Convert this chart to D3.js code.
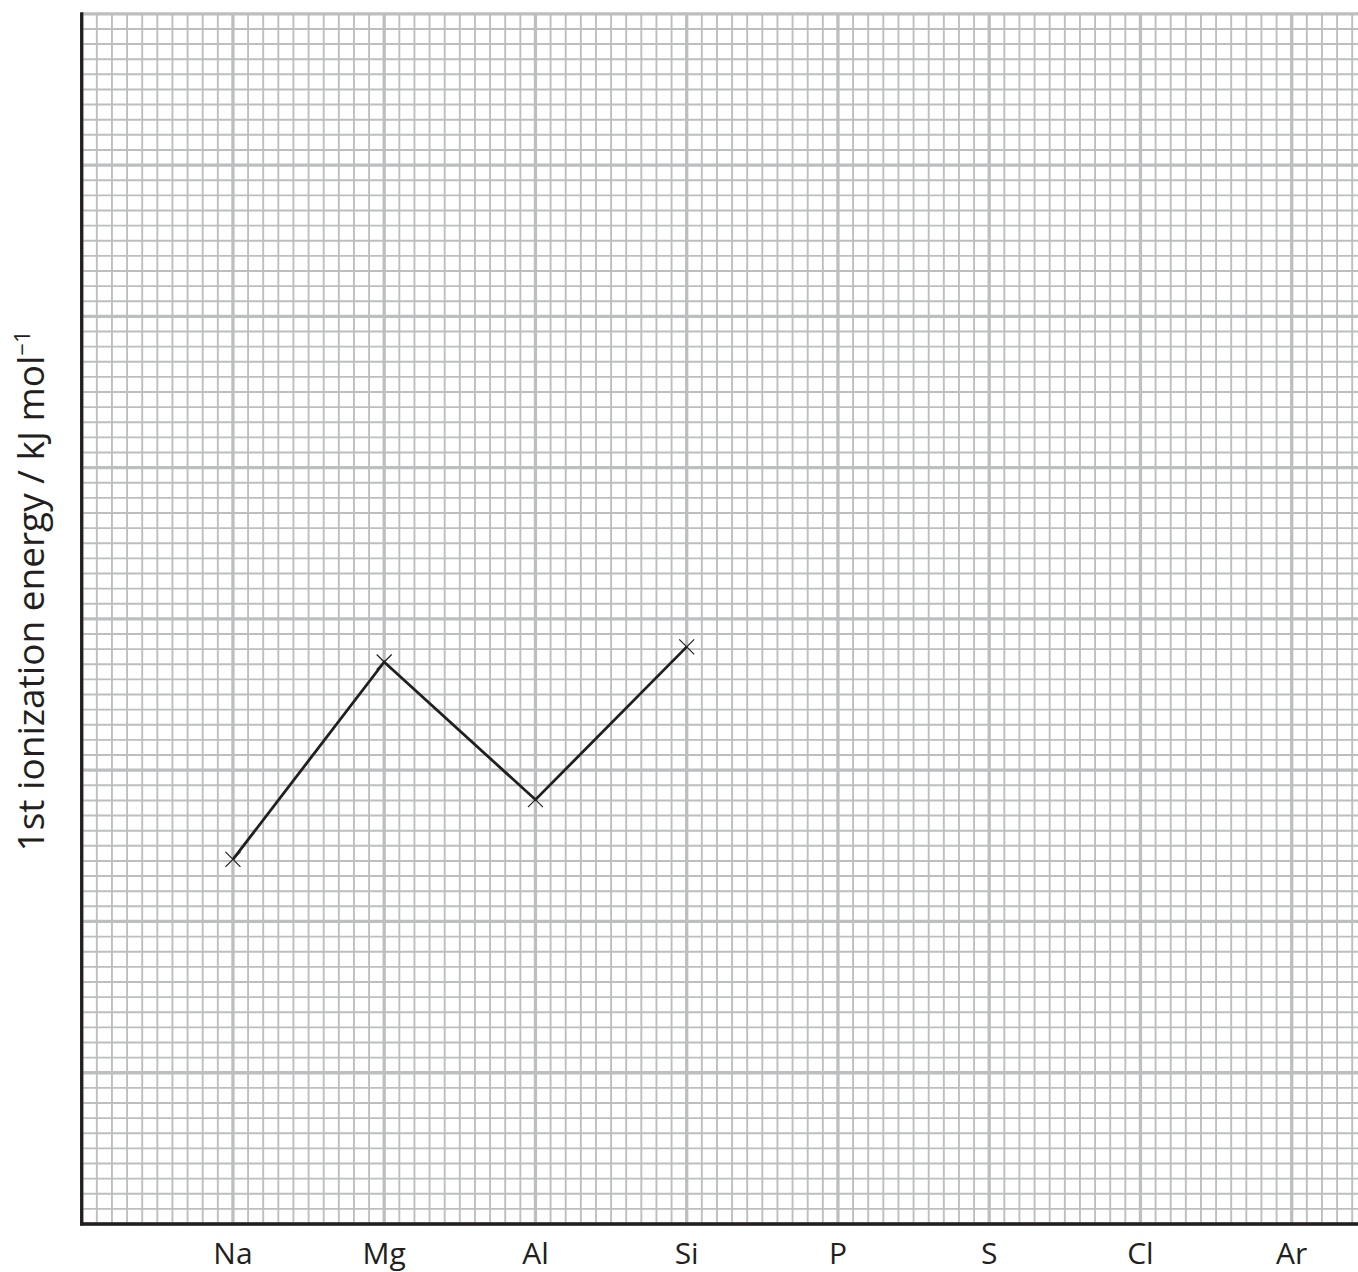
<!DOCTYPE html>
<html>
<head>
<meta charset="utf-8">
<script src="https://cdn.jsdelivr.net/npm/d3@7"></script>
<style>
  body { margin: 0; background: #fff; }
  svg { display: block; }
  text { font-family: "Open Sans", sans-serif; fill: #231f20; }
</style>
</head>
<body>
<svg id="chart" width="1358" height="1272"></svg>
<script>
// elements across period 3
var elements = ["Na", "Mg", "Al", "Si", "P", "S", "Cl", "Ar"];
// plotted points (only the first four were drawn)
var plotted = ["Na", "Mg", "Al", "Si"];
var energy = [482, 743, 561, 763];

var svg = d3.select("#chart"),
    plotLeft = 81.7, plotRight = 1291.7, plotTop = 13.8, plotBottom = 1224;

var x = d3.scaleLinear().domain([0, 8]).range([plotLeft, plotRight]);
var y = d3.scaleLinear().domain([0, 1600]).range([plotBottom, plotTop]);

var gridColor = "#bcbec0";

// graph paper - minor lines every 0.1 column / 20 units
var vMinor = d3.range(0, 85).map(function(i) { return i / 10; });
var hMinor = d3.range(0, 81).map(function(i) { return i * 20; });

var grid = svg.append("g");
grid.selectAll(".vline")
    .data(vMinor)
  .enter().append("line")
    .attr("x1", function(d) { return x(d); })
    .attr("x2", function(d) { return x(d); })
    .attr("y1", plotTop)
    .attr("y2", plotBottom)
    .attr("stroke", gridColor)
    .attr("stroke-width", function(d, i) { return i % 10 === 0 ? 3.3 : 1.9; });

grid.selectAll(".hline")
    .data(hMinor)
  .enter().append("line")
    .attr("x1", plotLeft)
    .attr("x2", 1358)
    .attr("y1", function(d) { return y(d); })
    .attr("y2", function(d) { return y(d); })
    .attr("stroke", gridColor)
    .attr("stroke-width", function(d, i) { return i % 10 === 0 ? 3.3 : 1.9; });

// put the major lines on top of the minor ones
grid.selectAll("line").filter(function() { return +d3.select(this).attr("stroke-width") > 3; }).raise();

// axes
svg.append("line")
    .attr("x1", plotLeft).attr("x2", plotLeft)
    .attr("y1", plotTop - 1.5).attr("y2", plotBottom + 1.6)
    .attr("stroke", "#231f20").attr("stroke-width", 3.3);
svg.append("line")
    .attr("x1", plotLeft - 1.6).attr("x2", 1358)
    .attr("y1", plotBottom).attr("y2", plotBottom)
    .attr("stroke", "#231f20").attr("stroke-width", 3.3);

// element labels
svg.append("g").selectAll("text")
    .data(elements)
  .enter().append("text")
    .attr("x", function(d, i) { return x(i + 1); })
    .attr("y", 1264)
    .attr("text-anchor", "middle")
    .attr("font-size", 30)
    .text(function(d) { return d; });

// y axis title
var title = svg.append("text")
    .attr("transform", "translate(44,591) rotate(-90)")
    .attr("text-anchor", "middle")
    .attr("font-size", 37);
title.append("tspan").text("1st ionization energy / kJ mol");
title.append("tspan").attr("dy", -14).attr("font-size", 22).text("\u22121");

// the student's line
var pts = plotted.map(function(e, i) {
  return [x(elements.indexOf(e) + 1), y(energy[i])];
});

svg.append("path")
    .attr("d", d3.line()(pts))
    .attr("fill", "none")
    .attr("stroke", "#231f20")
    .attr("stroke-width", 2.8)
    .attr("stroke-linejoin", "miter");

// crosses
var s = 7.5;
svg.append("g").selectAll("path")
    .data(pts)
  .enter().append("path")
    .attr("d", function(p) {
      return "M" + (p[0] - s) + "," + (p[1] - s) + "L" + (p[0] + s) + "," + (p[1] + s) +
             "M" + (p[0] - s) + "," + (p[1] + s) + "L" + (p[0] + s) + "," + (p[1] - s);
    })
    .attr("stroke", "#231f20")
    .attr("stroke-width", 1.2)
    .attr("fill", "none");
</script>
</body>
</html>
